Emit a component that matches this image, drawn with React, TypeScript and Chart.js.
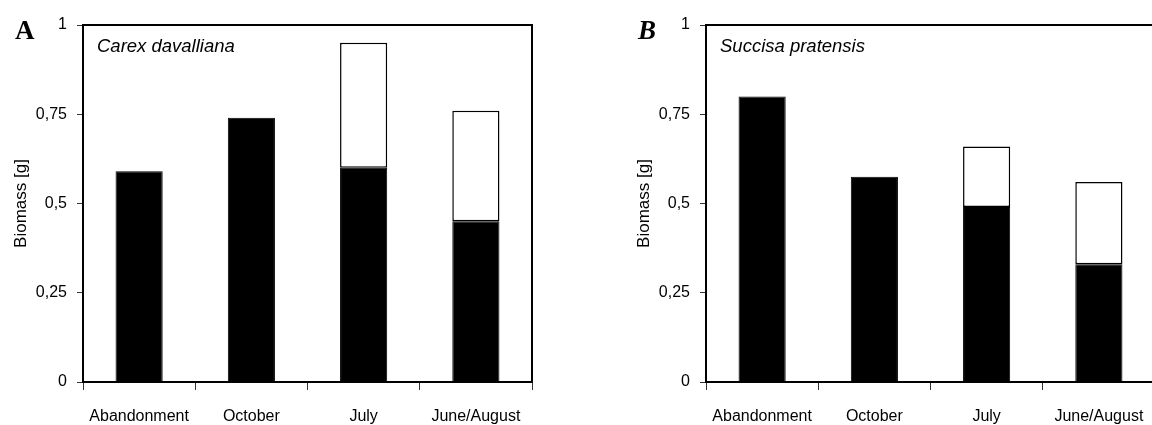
import React, { useEffect, useRef } from "react";
import { Chart, registerables } from "chart.js";

Chart.register(...registerables);

const categories = ["Abandonment", "October", "July", "June/August"];
const yTickValues = [0, 0.25, 0.5, 0.75, 1];
const yTickLabels = ["0", "0,25", "0,5", "0,75", "1"];

// Panel A: Carex davalliana
const carexLower = [0.59, 0.74, 0.6, 0.45];
const carexTotal = [null, null, 0.95, 0.76];

// Panel B: Succisa pratensis
const succisaLower = [0.8, 0.575, 0.49, 0.33];
const succisaTotal = [null, null, 0.66, 0.56];

const SANS = '"Liberation Sans", Arial, sans-serif';
const SERIF = '"Liberation Serif", "Times New Roman", serif';

type PanelProps = {
  letter: string;
  letterItalic: boolean;
  species: string;
  lower: number[];
  total: (number | null)[];
  left: number;
};

function Panel({ letter, letterItalic, species, lower, total, left }: PanelProps) {
  const ref = useRef<HTMLCanvasElement>(null);
  useEffect(() => {
    if (!ref.current) return;
    const upper = total.map((t, i) => (t == null ? null : t - lower[i]));
    const decor = {
      id: "decor",
      afterDraw(chart: any) {
        const { ctx, chartArea } = chart;
        ctx.save();
        ctx.strokeStyle = "#000";
        ctx.lineWidth = 2;
        ctx.beginPath();
        ctx.moveTo(chartArea.left, chartArea.top);
        ctx.lineTo(chartArea.right, chartArea.top);
        ctx.lineTo(chartArea.right, chartArea.bottom);
        ctx.stroke();
        ctx.fillStyle = "#000";
        ctx.textBaseline = "alphabetic";
        ctx.textAlign = "left";
        ctx.font = `italic 18.5px ${SANS}`;
        ctx.fillText(species, chartArea.left + 14, chartArea.top + 27);
        ctx.font = `${letterItalic ? "italic " : ""}bold 27px ${SERIF}`;
        ctx.fillText(letter, 15, 39);
        ctx.restore();
      },
    };
    const chart = new Chart(ref.current, {
      type: "bar",
      data: {
        labels: categories,
        datasets: [
          {
            data: lower,
            backgroundColor: "#000",
            borderColor: "#000",
            borderWidth: 1,
            barPercentage: 0.42,
            categoryPercentage: 1,
          },
          {
            data: upper as any,
            backgroundColor: "#fff",
            borderColor: "#000",
            borderWidth: 1.5,
            borderSkipped: false,
            barPercentage: 0.42,
            categoryPercentage: 1,
          },
        ],
      },
      options: {
        responsive: false,
        maintainAspectRatio: false,
        animation: false,
        layout: { padding: { top: 25, right: 28, bottom: 0, left: 0 } },
        plugins: {
          legend: { display: false },
          tooltip: { enabled: false },
        },
        scales: {
          x: {
            stacked: true,
            grid: {
              offset: true,
              drawOnChartArea: false,
              drawTicks: true,
              tickLength: 8,
              color: "#333",
              lineWidth: 1,
            },
            border: { display: true, color: "#000", width: 2 },
            ticks: {
              color: "#000",
              font: { family: SANS, size: 16 },
              padding: 17,
              maxRotation: 0,
              autoSkip: false,
            },
            afterFit: (s: any) => {
              s.height = 43;
            },
          },
          y: {
            stacked: true,
            min: 0,
            max: 1,
            afterBuildTicks: (s: any) => {
              s.ticks = yTickValues.map((v) => ({ value: v }));
            },
            grid: {
              drawOnChartArea: false,
              drawTicks: true,
              tickLength: 6,
              color: "#333",
              lineWidth: 1,
            },
            border: { display: true, color: "#000", width: 2 },
            ticks: {
              color: "#000",
              font: { family: SANS, size: 16 },
              padding: 10,
              callback: (v: any) => {
                const i = yTickValues.indexOf(Number(v));
                return i >= 0 ? yTickLabels[i] : "";
              },
            },
            title: {
              display: true,
              text: "Biomass [g]",
              color: "#000",
              font: { family: SANS, size: 17 },
              padding: { top: 11, bottom: 0 },
            },
            afterFit: (s: any) => {
              s.width = 83;
            },
          },
        },
      },
      plugins: [decor],
    });
    return () => chart.destroy();
  }, []);
  return (
    <canvas
      ref={ref}
      width={560}
      height={425}
      style={{ position: "absolute", left, top: 0, width: 560, height: 425 }}
    />
  );
}

export default function App() {
  return (
    <div
      style={{
        position: "fixed",
        left: 0,
        top: 0,
        width: 1152,
        height: 425,
        overflow: "hidden",
        background: "#fff",
      }}
    >
      <Panel
        letter="A"
        letterItalic={false}
        species="Carex davalliana"
        lower={carexLower}
        total={carexTotal}
        left={0}
      />
      <Panel
        letter="B"
        letterItalic={true}
        species="Succisa pratensis"
        lower={succisaLower}
        total={succisaTotal}
        left={623}
      />
    </div>
  );
}
